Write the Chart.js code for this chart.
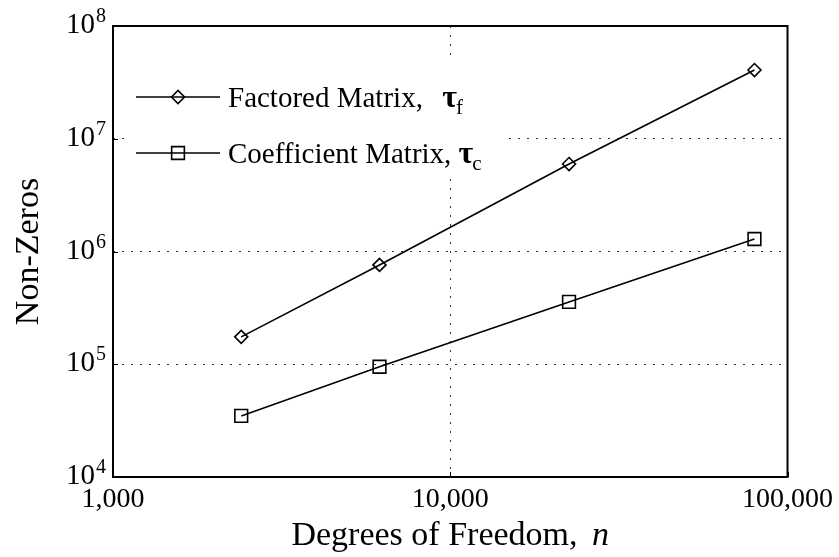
<!DOCTYPE html>
<html>
<head>
<meta charset="utf-8">
<script src="https://cdn.jsdelivr.net/npm/chart.js@4/dist/chart.umd.min.js"></script>
<style>
  html, body { margin: 0; padding: 0; background: #fff; }
  #wrap { width: 839px; height: 557px; }
</style>
</head>
<body>
<div id="wrap"><canvas id="c" width="839" height="557"></canvas></div>
<script>
// ---- data ----
const dof = [2400, 6170, 22500, 79800];                 // Degrees of Freedom, n
const factoredNZ = [1.75e5, 7.6e5, 5.97e6, 4.07e7];     // Factored Matrix, tau_f
const coefficientNZ = [3.48e4, 9.5e4, 3.57e5, 1.29e6];  // Coefficient Matrix, tau_c
const xTicks = [1000, 10000, 100000];
const xTickLabels = ['1,000', '10,000', '100,000'];
const yExponents = [4, 5, 6, 7, 8];
const seriesNames = ['Factored Matrix, ', 'Coefficient Matrix, '];
const seriesSymbols = ['\u03C4', '\u03C4'];
const seriesSubs = ['f', 'c'];
const xTitleMain = 'Degrees of Freedom, ';
const xTitleVar = 'n';
const yTitle = 'Non-Zeros';

const SERIF = '"Liberation Serif", "DejaVu Serif", serif';

const decorPlugin = {
  id: 'decor',
  afterDatasetsDraw(chart) {
    const ctx = chart.ctx;
    const a = chart.chartArea;
    const xs = chart.scales.x, ys = chart.scales.y;
    ctx.save();
    // inward ticks
    ctx.strokeStyle = '#000';
    ctx.lineWidth = 1;
    yExponents.forEach(e => {
      const y = Math.round(ys.getPixelForValue(Math.pow(10, e))) + 0.5;
      ctx.beginPath(); ctx.moveTo(a.left, y); ctx.lineTo(a.left + 5, y); ctx.stroke();
    });
    xTicks.forEach(v => {
      const x = Math.round(xs.getPixelForValue(v)) + 0.5;
      ctx.beginPath(); ctx.moveTo(x, a.bottom); ctx.lineTo(x, a.bottom - 5); ctx.stroke();
    });
    // legend box
    ctx.fillStyle = '#fff';
    ctx.fillRect(a.left + 15, a.top + 29, 378, 123);
    const rows = [a.top + 71, a.top + 127];
    const styles = ['rectRot', 'rect'];
    const radii = [6.5, 9];
    rows.forEach((y, i) => {
      ctx.strokeStyle = '#000';
      ctx.lineWidth = 1.6;
      ctx.beginPath(); ctx.moveTo(a.left + 23, y); ctx.lineTo(a.left + 107, y); ctx.stroke();
      ctx.fillStyle = 'rgba(0,0,0,0)';
      Chart.helpers.drawPoint(ctx, {pointStyle: styles[i], radius: radii[i], borderWidth: 1.6, rotation: 0},
        a.left + 65, y);
      ctx.fillStyle = '#000';
      ctx.textBaseline = 'alphabetic';
      ctx.textAlign = 'left';
      ctx.font = '29px ' + SERIF;
      const tx = a.left + 115;
      const by = y + 10;
      ctx.fillText(seriesNames[i], tx, by);
      let w = ctx.measureText(seriesNames[i]).width + (i === 0 ? 12 : 0);
      ctx.font = 'bold 32px ' + SERIF;
      ctx.fillText(seriesSymbols[i], tx + w, by);
      const w2 = ctx.measureText(seriesSymbols[i]).width;
      ctx.font = '21px ' + SERIF;
      ctx.fillText(seriesSubs[i], tx + w + w2 - 1, by + 7);
    });
    ctx.restore();
  },
  afterDraw(chart) {
    const ctx = chart.ctx;
    const a = chart.chartArea;
    const ys = chart.scales.y;
    ctx.save();
    // frame
    ctx.strokeStyle = '#000';
    ctx.lineWidth = 2;
    ctx.strokeRect(a.left, a.top, a.right - a.left, a.bottom - a.top);
    // y tick labels 10^e
    ctx.fillStyle = '#000';
    ctx.textBaseline = 'alphabetic';
    yExponents.forEach(e => {
      const y = ys.getPixelForValue(Math.pow(10, e));
      ctx.font = '20px ' + SERIF;
      const ex = String(e);
      const we = ctx.measureText(ex).width;
      const xEnd = a.left - 7;
      ctx.textAlign = 'left';
      ctx.fillText(ex, xEnd - we, y - 4);
      ctx.font = '29px ' + SERIF;
      ctx.textAlign = 'right';
      ctx.fillText('10', xEnd - we - 1, y + 7);
    });
    // x title
    const TF = 34;
    ctx.font = TF + 'px ' + SERIF;
    const w1 = ctx.measureText(xTitleMain).width;
    ctx.font = 'italic ' + TF + 'px ' + SERIF;
    const w2 = ctx.measureText(xTitleVar).width;
    const cx = (a.left + a.right) / 2;
    const x0 = cx - (w1 + w2 + 6) / 2;
    ctx.textAlign = 'left';
    ctx.font = TF + 'px ' + SERIF;
    ctx.fillText(xTitleMain, x0, 545);
    ctx.font = 'italic ' + TF + 'px ' + SERIF;
    ctx.fillText(xTitleVar, x0 + w1 + 6, 545);
    // y title
    ctx.translate(38, (a.top + a.bottom) / 2);
    ctx.rotate(-Math.PI / 2);
    ctx.textAlign = 'center';
    ctx.font = TF + 'px ' + SERIF;
    ctx.fillText(yTitle, 0, 0);
    ctx.restore();
  }
};

const gridColor = (ctx) => {
  const v = ctx.tick && ctx.tick.value;
  if (v === undefined) return 'rgba(0,0,0,0)';
  return (ctx.index !== 0 && ctx.index !== ctx.scale.ticks.length - 1) ? '#333' : 'rgba(0,0,0,0)';
};

new Chart(document.getElementById('c'), {
  type: 'line',
  data: {
    datasets: [
      {
        label: seriesNames[0] + seriesSymbols[0] + seriesSubs[0],
        data: dof.map((x, i) => ({x, y: factoredNZ[i]})),
        borderColor: '#000', borderWidth: 1.6,
        pointStyle: 'rectRot', pointRadius: 6.5, pointHoverRadius: 6.5,
        pointBorderColor: '#000', pointBackgroundColor: 'rgba(0,0,0,0)', pointBorderWidth: 1.6,
        tension: 0, fill: false
      },
      {
        label: seriesNames[1] + seriesSymbols[1] + seriesSubs[1],
        data: dof.map((x, i) => ({x, y: coefficientNZ[i]})),
        borderColor: '#000', borderWidth: 1.6,
        pointStyle: 'rect', pointRadius: 9, pointHoverRadius: 9,
        pointBorderColor: '#000', pointBackgroundColor: 'rgba(0,0,0,0)', pointBorderWidth: 1.6,
        tension: 0, fill: false
      }
    ]
  },
  options: {
    responsive: false,
    animation: false,
    layout: { padding: { top: 26, right: 50, left: 0, bottom: 0 } },
    plugins: { legend: { display: false }, tooltip: { enabled: false } },
    scales: {
      x: {
        type: 'logarithmic', min: 1000, max: 100000,
        afterBuildTicks: (s) => { s.ticks = xTicks.map(v => ({value: v})); },
        afterFit: (s) => { s.height = 80; },
        ticks: {
          autoSkip: false, maxRotation: 0, padding: 6,
          color: '#000', font: { family: SERIF, size: 28 },
          callback: (v) => { const i = xTicks.indexOf(v); return i >= 0 ? xTickLabels[i] : ''; }
        },
        grid: { color: gridColor, drawTicks: false, lineWidth: 1 },
        border: { display: false, dash: [2, 7] }
      },
      y: {
        type: 'logarithmic', min: 1e4, max: 1e8,
        afterBuildTicks: (s) => { s.ticks = yExponents.map(e => ({value: Math.pow(10, e)})); },
        afterFit: (s) => { s.width = 113; },
        ticks: { display: false },
        grid: { color: gridColor, drawTicks: false, lineWidth: 1 },
        border: { display: false, dash: [2, 7] }
      }
    }
  },
  plugins: [decorPlugin]
});
</script>
</body>
</html>
